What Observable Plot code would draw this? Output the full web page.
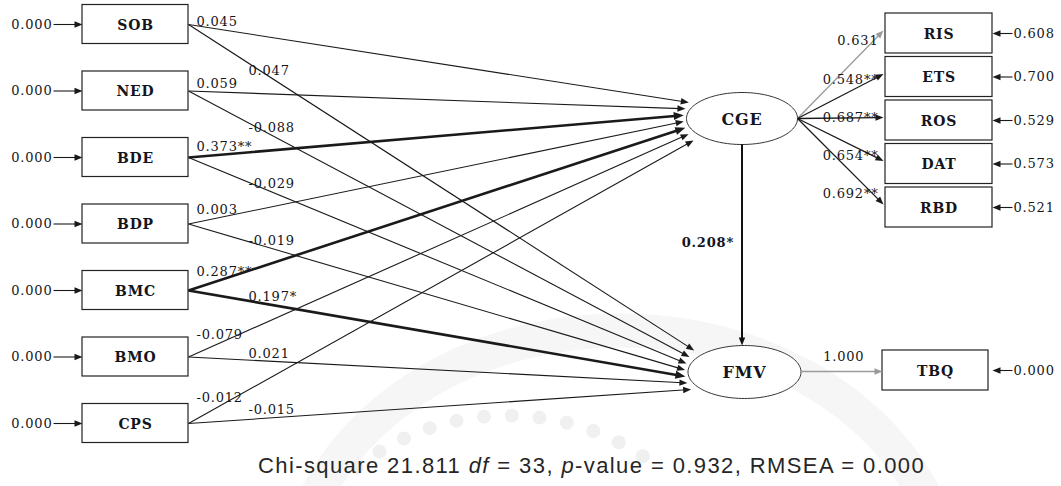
<!DOCTYPE html>
<html><head><meta charset="utf-8">
<script src="https://cdn.jsdelivr.net/npm/d3@7"></script>
<script src="https://cdn.jsdelivr.net/npm/@observablehq/plot@0.6"></script>
<style>
body{margin:0;background:#fff;}
#chart svg text{letter-spacing:0.8px}
#caption{position:absolute;left:258px;top:446px;height:40px;line-height:40px;font-family:"Liberation Sans",Arial,sans-serif;font-size:22px;letter-spacing:1.4px;color:#262626;white-space:nowrap}
</style></head><body>
<div id="chart"></div>
<div id="caption"></div>
<script>
// ---------- DATA ----------
const exogenous = ["SOB","NED","BDE","BDP","BMC","BMO","CPS"];
const exogenousVariance = [0,0,0,0,0,0,0];
const pathsToCGE = [0.045,0.059,0.373,0.003,0.287,-0.079,-0.012];
const starsToCGE = ["","","**","","**","",""];
const pathsToFMV = [0.047,-0.088,-0.029,-0.019,0.197,0.021,-0.015];
const starsToFMV = ["","","","","*","",""];
const latent = ["CGE","FMV"];
const cgeToFmv = 0.208;
const cgeToFmvStars = "*";
const indicators = ["RIS","ETS","ROS","DAT","RBD"];
const loadings = [0.631,0.548,0.687,0.654,0.692];
const loadingStars = ["","**","**","**","**"];
const indicatorErrors = [0.608,0.700,0.529,0.573,0.521];
const outcome = "TBQ";
const fmvToOutcome = 1.000;
const outcomeError = 0.000;
const chiSquare = 21.811, dfValue = 33, pValue = 0.932, rmsea = 0.000;

// ---------- LAYOUT ----------
const fmt = v => (v < 0 ? "-" : "") + Math.abs(v).toFixed(3);
const W = 1061, H = 486;
const serif = "'DejaVu Serif','Liberation Serif',serif";
const ink = "#151520";
const leftY = d3.scalePoint(exogenous, [24, 423]);
const rightY = d3.scalePoint(indicators, [33, 207]);
const LX1 = 82, LX2 = 188, RX1 = 885, RX2 = 992, BH = 19.5;
const ell = {
  CGE: {cx: 741.5, cy: 118, rx: 55.5, ry: 26},
  FMV: {cx: 744, cy: 371.5, rx: 56.5, ry: 26.5}
};
const outcomeY = 370;
const grey = "#9a9a9a";

function tipOn(e, t) {
  const y = e.cy + t * e.ry;
  return {x: e.cx - e.rx - 3 + 14 * t * t, y};
}
const arrows = [];
exogenous.forEach((name, i) => {
  const y0 = leftY(name);
  const tc = tipOn(ell.CGE, d3.interpolateNumber(-16/26, 22/26)(i/6));
  const tf = tipOn(ell.FMV, d3.interpolateNumber(-21.5/26.5, 17.5/26.5)(i/6));
  arrows.push({kind:"cge", i, x1: LX2, y1: y0, x2: tc.x, y2: tc.y,
    w: starsToCGE[i] ? 2.6 : 1.1, color: "#1a1a1a",
    label: fmt(pathsToCGE[i]) + starsToCGE[i], bold: !!starsToCGE[i]});
  arrows.push({kind:"fmv", i, x1: LX2, y1: y0, x2: tf.x, y2: tf.y,
    w: starsToFMV[i] ? 2.6 : 1.1, color: "#1a1a1a",
    label: fmt(pathsToFMV[i]) + starsToFMV[i], bold: !!starsToFMV[i]});
  arrows.push({kind:"err", x1: 53, y1: y0, x2: LX1, y2: y0, w: 1.1, color: "#1a1a1a"});
});
arrows.push({kind:"struct", x1: ell.CGE.cx, y1: ell.CGE.cy + ell.CGE.ry, x2: ell.CGE.cx, y2: ell.FMV.cy - ell.FMV.ry,
  w: 2, color: "#111", label: fmt(cgeToFmv) + cgeToFmvStars, bold: true});
indicators.forEach((name, i) => {
  arrows.push({kind:"load", i, x1: ell.CGE.cx + ell.CGE.rx, y1: ell.CGE.cy, x2: RX1 - 2, y2: rightY(name) - 3,
    w: 1.3, color: loadingStars[i] ? "#1a1a1a" : grey, label: fmt(loadings[i]) + loadingStars[i]});
  arrows.push({kind:"err", x1: 1012, y1: rightY(name), x2: RX2, y2: rightY(name), w: 1.1, color: "#1a1a1a"});
});
arrows.push({kind:"out", x1: ell.FMV.cx + ell.FMV.rx, y1: outcomeY + 1, x2: RX1 - 3, y2: outcomeY + 1,
  w: 1.3, color: grey, label: fmt(fmvToOutcome)});
arrows.push({kind:"err", x1: 1012, y1: outcomeY, x2: RX2, y2: outcomeY, w: 1.1, color: "#1a1a1a"});

const shafts = [], heads = [];
arrows.forEach((a, k) => {
  const dx = a.x2 - a.x1, dy = a.y2 - a.y1, len = Math.hypot(dx, dy);
  const ux = dx / len, uy = dy / len;
  const L = a.w > 2 ? 10 : 8, Wd = a.w > 2 ? 4 : 3.2;
  const bx = a.x2 - ux * L, by = a.y2 - uy * L;
  shafts.push({...a, sx2: a.x2 - ux * L * 0.6, sy2: a.y2 - uy * L * 0.6});
  heads.push({id: k, x: a.x2, y: a.y2, color: a.color});
  heads.push({id: k, x: bx - uy * Wd, y: by + ux * Wd, color: a.color});
  heads.push({id: k, x: bx + uy * Wd, y: by - ux * Wd, color: a.color});
});
const lineYAt = (a, x) => a.y1 + (a.y2 - a.y1) * (x - a.x1) / (a.x2 - a.x1);

const pathLabels = arrows.filter(a => a.kind === "cge" || a.kind === "fmv").map(a => {
  const sx = a.kind === "cge" ? a.x1 + 8 : a.x1 + 60;
  return {x: sx, y: lineYAt(a, sx + 24) - 8, text: a.label, bold: a.bold};
});
const loadLabels = arrows.filter(a => a.kind === "load").map(a => {
  const ly = lineYAt(a, 851);
  return {x: 878, y: ly + (ly - ell.CGE.cy) * 0.4, text: a.label};
});
const outLabel = arrows.filter(a => a.kind === "out").map(a => ({x: (a.x1 + a.x2) / 2 + 2, y: a.y1 - 15, text: a.label}));
const structLabel = arrows.filter(a => a.kind === "struct").map(a => ({x: a.x1 - 8, y: (a.y1 + a.y2) / 2 - 2, text: a.label}));

const leftBoxes = exogenous.map((n, i) => ({name: n, x1: LX1, x2: LX2, y1: leftY(n) - BH, y2: leftY(n) + BH, err: fmt(exogenousVariance[i])}));
const rightBoxes = indicators.map((n, i) => ({name: n, x1: RX1, x2: RX2, y1: rightY(n) - 20, y2: rightY(n) + 20, err: fmt(indicatorErrors[i])}));
rightBoxes.push({name: outcome, x1: RX1 - 3, x2: RX2 - 4, y1: outcomeY - 20, y2: outcomeY + 20, err: fmt(outcomeError)});

const ellPts = [];
latent.forEach(n => {
  const e = ell[n];
  d3.range(0, 360, 3).forEach(deg => {
    const t = deg * Math.PI / 180;
    ellPts.push({name: n, x: e.cx + e.rx * Math.cos(t), y: e.cy + e.ry * Math.sin(t)});
  });
});

// faint watermark (decoration)
const band = d3.range(-168, -11, 2).map(deg => {
  const t = deg * Math.PI / 180;
  return {x: 620 + 330 * Math.cos(t), y: 600 + 270 * Math.sin(t)};
});
const wmDots = d3.range(-128, -50, 6.5).map(deg => {
  const t = deg * Math.PI / 180;
  return {x: 507 + 245 * Math.cos(t), y: 660 + 245 * Math.sin(t)};
});

const chart = Plot.plot({
  width: W, height: H, margin: 0,
  x: {domain: [0, W], range: [0, W], axis: null},
  y: {domain: [0, H], range: [0, H], axis: null},
  style: {background: "white", overflow: "visible"},
  marks: [
    Plot.line(band, {x: "x", y: "y", stroke: "#f6f6f6", strokeWidth: 34, curve: "linear"}),
    Plot.dot(wmDots, {x: "x", y: "y", r: 7, fill: "#f0f0f0", stroke: "none"}),
    Plot.line(ellPts, {x: "x", y: "y", z: "name", curve: "linear-closed", stroke: "#333", strokeWidth: 1, fill: "white"}),
    Plot.rect(leftBoxes, {x1: "x1", x2: "x2", y1: "y1", y2: "y2", fill: "white", stroke: "#222", strokeWidth: 1.2}),
    Plot.rect(rightBoxes, {x1: "x1", x2: "x2", y1: "y1", y2: "y2", fill: "white", stroke: "#222", strokeWidth: 1.2}),
    Plot.link(shafts, {x1: "x1", y1: "y1", x2: "sx2", y2: "sy2", stroke: d => d.color, strokeWidth: d => d.w}),
    Plot.line(heads, {x: "x", y: "y", z: "id", fill: d => d.color, stroke: "none", curve: "linear-closed"}),
    Plot.text(leftBoxes, {x: d => (d.x1 + d.x2) / 2, y: d => (d.y1 + d.y2) / 2 + 1, text: "name", fontFamily: serif, fontSize: 14, fontWeight: "bold", fill: ink}),
    Plot.text(rightBoxes, {x: d => (d.x1 + d.x2) / 2, y: d => (d.y1 + d.y2) / 2 + 1, text: "name", fontFamily: serif, fontSize: 14, fontWeight: "bold", fill: ink}),
    Plot.text(latent, {x: n => ell[n].cx, y: n => ell[n].cy + 1, text: d => d, fontFamily: serif, fontSize: 16, fontWeight: "bold", fill: ink}),
    Plot.text(leftBoxes, {x: 52, y: d => (d.y1 + d.y2) / 2, text: "err", textAnchor: "end", fontFamily: serif, fontSize: 13, fill: ink}),
    Plot.text(rightBoxes, {x: 1013, y: d => (d.y1 + d.y2) / 2, text: "err", textAnchor: "start", fontFamily: serif, fontSize: 13, fill: ink}),
    Plot.text(pathLabels, {x: "x", y: "y", text: "text", textAnchor: "start", fontFamily: serif, fontSize: 13, fontWeight: d => d.bold ? "bold" : "normal", fill: ink}),
    Plot.text(loadLabels, {x: "x", y: "y", text: "text", textAnchor: "end", fontFamily: serif, fontSize: 13, fill: ink}),
    Plot.text(outLabel, {x: "x", y: "y", text: "text", fontFamily: serif, fontSize: 13, fill: ink}),
    Plot.text(structLabel, {x: "x", y: "y", text: "text", textAnchor: "end", fontFamily: serif, fontSize: 13, fontWeight: "bold", fill: ink})
  ]
});
document.getElementById("chart").append(chart);
document.getElementById("caption").innerHTML =
  `Chi-square ${fmt(chiSquare)} <i>df</i> = ${dfValue}, <i>p</i>-value = ${fmt(pValue)}, RMSEA = ${fmt(rmsea)}`;
</script>
</body></html>
